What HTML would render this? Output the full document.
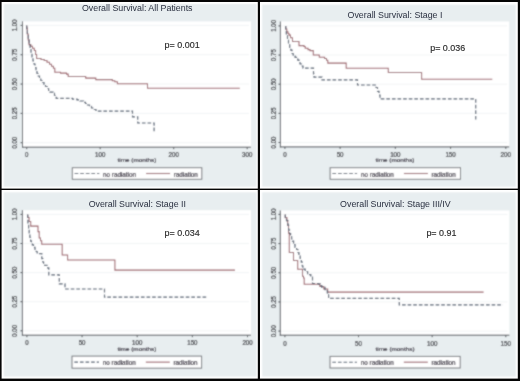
<!DOCTYPE html>
<html><head><meta charset="utf-8"><title>Overall Survival</title>
<style>
html,body{margin:0;padding:0;background:#000;}
body{width:520px;height:381px;overflow:hidden;}
svg{display:block;font-family:"Liberation Sans", sans-serif;}
</style></head><body>
<svg width="520" height="381" viewBox="0 0 520 381">
<defs><filter id="bl" x="0" y="0" width="520" height="381" filterUnits="userSpaceOnUse"><feConvolveMatrix order="3" kernelMatrix="1 2 1 2 8 2 1 2 1" divisor="20" edgeMode="duplicate"/></filter></defs>
<rect x="0" y="0" width="520" height="381" fill="#050505"/>
<rect x="1.6" y="2" width="256.2" height="186.6" fill="#ffffff"/>
<rect x="260" y="2" width="257.8" height="186.6" fill="#ffffff"/>
<rect x="1.6" y="190" width="256.2" height="188.6" fill="#ffffff"/>
<rect x="260" y="190" width="257.8" height="188.6" fill="#ffffff"/>
<g filter="url(#bl)">
<rect x="3.8" y="4" width="252.7" height="182.7" fill="#e8eef0"/>
<rect x="22.5" y="21.4" width="228.5" height="125.8" fill="#fff"/>
<line x1="23" y1="142.7" x2="249" y2="142.7" stroke="#f2f4f5" stroke-width="1"/>
<line x1="23" y1="113.38" x2="249" y2="113.38" stroke="#f2f4f5" stroke-width="1"/>
<line x1="23" y1="84.05" x2="249" y2="84.05" stroke="#f2f4f5" stroke-width="1"/>
<line x1="23" y1="54.72" x2="249" y2="54.72" stroke="#f2f4f5" stroke-width="1"/>
<line x1="23" y1="25.4" x2="249" y2="25.4" stroke="#f2f4f5" stroke-width="1"/>
<path d="M 26.7 25.4 V 28 H 27.3 V 34 H 28.2 V 40 H 29 V 44.6 H 30.8 V 46.3 H 32.5 V 48.3 H 34.3 V 50.5 H 35.6 V 54.5 H 36.6 V 58.4 H 41 V 59.5 H 44.2 V 60.4 H 47 V 62.3 H 49.5 V 64.2 H 51.5 V 66.2 H 53.4 V 68.2 H 54.8 V 72.2 H 60.5 V 73.1 H 66.5 V 74.1 H 68.2 V 76.5 H 85.7 V 78.1 H 95.8 V 79.6 H 112.3 V 80.8 H 114.8 V 81.8 H 117.4 V 83.7 H 147.5 V 88.2 H 239.8" fill="none" stroke="#9a5e67" stroke-width="1.05"/>
<path d="M 26.7 25.4 V 29 H 27.4 V 34 H 28.3 V 40 H 29.2 V 45 H 30.1 V 49 H 31 V 53 H 32 V 57 H 33 V 61 H 34 V 64 H 35 V 67.5 H 36 V 70.5 H 37 V 73.5 H 38.2 V 76 H 39.5 V 78.3 H 40.8 V 80.5 H 42.5 V 82.5 H 44 V 84.5 H 45.5 V 86.5 H 47.2 V 88.5 H 48.6 V 90.5 H 50 V 92.2 H 53 V 93.3 H 54.5 V 95.5 H 56.2 V 98.3 H 72.5 V 99.2 H 77 V 99.9 H 80 V 101 H 83.5 V 102.3 H 85.5 V 103.5 H 87.5 V 105 H 89.5 V 106.3 H 91.5 V 108 H 93.5 V 109.5 H 96 V 111.1 H 132.5 V 116.8 H 137.7 V 123 H 154.1 V 133.1" fill="none" stroke="#4a586b" stroke-width="1.2" stroke-dasharray="3.7 1.9"/>
<line x1="22.5" y1="21.4" x2="22.5" y2="147.7" stroke="#4a4e55" stroke-width="1"/>
<line x1="22" y1="147.2" x2="251" y2="147.2" stroke="#4a4e55" stroke-width="1"/>
<line x1="20.5" y1="142.7" x2="22.5" y2="142.7" stroke="#4a4e55" stroke-width="1"/>
<text transform="translate(17.1 142.7) rotate(-90) scale(0.87 1)" text-anchor="middle" font-size="7" fill="#26262c" stroke="#26262c" stroke-width="0.18">0.00</text>
<line x1="20.5" y1="113.38" x2="22.5" y2="113.38" stroke="#4a4e55" stroke-width="1"/>
<text transform="translate(17.1 113.38) rotate(-90) scale(0.87 1)" text-anchor="middle" font-size="7" fill="#26262c" stroke="#26262c" stroke-width="0.18">0.25</text>
<line x1="20.5" y1="84.05" x2="22.5" y2="84.05" stroke="#4a4e55" stroke-width="1"/>
<text transform="translate(17.1 84.05) rotate(-90) scale(0.87 1)" text-anchor="middle" font-size="7" fill="#26262c" stroke="#26262c" stroke-width="0.18">0.50</text>
<line x1="20.5" y1="54.72" x2="22.5" y2="54.72" stroke="#4a4e55" stroke-width="1"/>
<text transform="translate(17.1 54.72) rotate(-90) scale(0.87 1)" text-anchor="middle" font-size="7" fill="#26262c" stroke="#26262c" stroke-width="0.18">0.75</text>
<line x1="20.5" y1="25.4" x2="22.5" y2="25.4" stroke="#4a4e55" stroke-width="1"/>
<text transform="translate(17.1 25.4) rotate(-90) scale(0.87 1)" text-anchor="middle" font-size="7" fill="#26262c" stroke="#26262c" stroke-width="0.18">1.00</text>
<line x1="26.7" y1="147.2" x2="26.7" y2="149.2" stroke="#4a4e55" stroke-width="1"/>
<text transform="translate(26.7 156.6) scale(0.87 1)" text-anchor="middle" font-size="7" fill="#26262c" stroke="#26262c" stroke-width="0.18">0</text>
<line x1="100.2" y1="147.2" x2="100.2" y2="149.2" stroke="#4a4e55" stroke-width="1"/>
<text transform="translate(100.2 156.6) scale(0.87 1)" text-anchor="middle" font-size="7" fill="#26262c" stroke="#26262c" stroke-width="0.18">100</text>
<line x1="173.7" y1="147.2" x2="173.7" y2="149.2" stroke="#4a4e55" stroke-width="1"/>
<text transform="translate(173.7 156.6) scale(0.87 1)" text-anchor="middle" font-size="7" fill="#26262c" stroke="#26262c" stroke-width="0.18">200</text>
<line x1="247.2" y1="147.2" x2="247.2" y2="149.2" stroke="#4a4e55" stroke-width="1"/>
<text transform="translate(247.2 156.6) scale(0.87 1)" text-anchor="middle" font-size="7" fill="#26262c" stroke="#26262c" stroke-width="0.18">300</text>
<text transform="translate(136.95 162.3) scale(1.03 1)" text-anchor="middle" font-size="6.2" fill="#241e2c" stroke="#241e2c" stroke-width="0.14">time (months)</text>
<rect x="72.3" y="167.7" width="129.5" height="11.6" fill="#fff" stroke="#75777c" stroke-width="1"/>
<line x1="74.6" y1="173.5" x2="99.3" y2="173.5" stroke="#4a586b" stroke-width="1.1" stroke-dasharray="3.7 1.9"/>
<text transform="translate(103.1 176.5) scale(0.97 1)" font-size="6.5" fill="#241e2c" stroke="#241e2c" stroke-width="0.16">no radiation</text>
<line x1="146.1" y1="173.5" x2="170.1" y2="173.5" stroke="#9a5e67" stroke-width="1.1"/>
<text transform="translate(173.7 176.5) scale(0.97 1)" font-size="6.5" fill="#241e2c" stroke="#241e2c" stroke-width="0.16">radiation</text>
<rect x="262.2" y="4.6" width="253.6" height="182.1" fill="#e8eef0"/>
<rect x="280.4" y="21.5" width="228.8" height="125.4" fill="#fff"/>
<line x1="280.9" y1="142.5" x2="507.2" y2="142.5" stroke="#f2f4f5" stroke-width="1"/>
<line x1="280.9" y1="113.35" x2="507.2" y2="113.35" stroke="#f2f4f5" stroke-width="1"/>
<line x1="280.9" y1="84.2" x2="507.2" y2="84.2" stroke="#f2f4f5" stroke-width="1"/>
<line x1="280.9" y1="55.05" x2="507.2" y2="55.05" stroke="#f2f4f5" stroke-width="1"/>
<line x1="280.9" y1="25.9" x2="507.2" y2="25.9" stroke="#f2f4f5" stroke-width="1"/>
<path d="M 285.7 25.9 V 29 H 286.8 V 31.8 H 288 V 33.5 H 289 V 35.1 H 290.5 V 37.7 H 292.5 V 41.4 H 299 V 45.6 H 304 V 46.5 H 305.2 V 48.2 H 308 V 49.6 H 310 V 50.6 H 313.3 V 55 H 319.3 V 57.2 H 324.6 V 58.5 H 326.5 V 60.3 H 327.8 V 63.1 H 346.2 V 68.3 H 388.3 V 72.5 H 421.6 V 79.2 H 492.3" fill="none" stroke="#9a5e67" stroke-width="1.05"/>
<path d="M 285.7 25.9 V 30 H 286.3 V 35.1 H 287.5 V 40 H 288.5 V 44.3 H 289.7 V 47.5 H 290.8 V 50.2 H 292 V 53.5 H 293.2 V 56.1 H 295.1 V 57.4 H 296.5 V 58.8 H 297.7 V 60.1 H 299 V 62 H 300 V 64 H 301.5 V 66 H 303 V 68.2 H 313.5 V 74 H 314 V 77.2 H 322 V 79.9 H 357.5 V 85 H 376 V 87.5 H 377.5 V 91.3 H 379 V 95 H 380 V 98.9 H 475.7 V 121" fill="none" stroke="#4a586b" stroke-width="1.2" stroke-dasharray="3.7 1.9"/>
<line x1="280.4" y1="21.5" x2="280.4" y2="147.4" stroke="#4a4e55" stroke-width="1"/>
<line x1="279.9" y1="146.9" x2="509.2" y2="146.9" stroke="#4a4e55" stroke-width="1"/>
<line x1="278.4" y1="142.5" x2="280.4" y2="142.5" stroke="#4a4e55" stroke-width="1"/>
<text transform="translate(276.1 142.5) rotate(-90) scale(0.76 1)" text-anchor="middle" font-size="8" fill="#26262c" stroke="#26262c" stroke-width="0.18">0.00</text>
<line x1="278.4" y1="113.35" x2="280.4" y2="113.35" stroke="#4a4e55" stroke-width="1"/>
<text transform="translate(276.1 113.35) rotate(-90) scale(0.76 1)" text-anchor="middle" font-size="8" fill="#26262c" stroke="#26262c" stroke-width="0.18">0.25</text>
<line x1="278.4" y1="84.2" x2="280.4" y2="84.2" stroke="#4a4e55" stroke-width="1"/>
<text transform="translate(276.1 84.2) rotate(-90) scale(0.76 1)" text-anchor="middle" font-size="8" fill="#26262c" stroke="#26262c" stroke-width="0.18">0.50</text>
<line x1="278.4" y1="55.05" x2="280.4" y2="55.05" stroke="#4a4e55" stroke-width="1"/>
<text transform="translate(276.1 55.05) rotate(-90) scale(0.76 1)" text-anchor="middle" font-size="8" fill="#26262c" stroke="#26262c" stroke-width="0.18">0.75</text>
<line x1="278.4" y1="25.9" x2="280.4" y2="25.9" stroke="#4a4e55" stroke-width="1"/>
<text transform="translate(276.1 25.9) rotate(-90) scale(0.76 1)" text-anchor="middle" font-size="8" fill="#26262c" stroke="#26262c" stroke-width="0.18">1.00</text>
<line x1="284.9" y1="146.9" x2="284.9" y2="148.9" stroke="#4a4e55" stroke-width="1"/>
<text transform="translate(284.9 157.3) scale(0.8 1)" text-anchor="middle" font-size="7.8" fill="#26262c" stroke="#26262c" stroke-width="0.18">0</text>
<line x1="340.12" y1="146.9" x2="340.12" y2="148.9" stroke="#4a4e55" stroke-width="1"/>
<text transform="translate(340.12 157.3) scale(0.8 1)" text-anchor="middle" font-size="7.8" fill="#26262c" stroke="#26262c" stroke-width="0.18">50</text>
<line x1="395.35" y1="146.9" x2="395.35" y2="148.9" stroke="#4a4e55" stroke-width="1"/>
<text transform="translate(395.35 157.3) scale(0.8 1)" text-anchor="middle" font-size="7.8" fill="#26262c" stroke="#26262c" stroke-width="0.18">100</text>
<line x1="450.57" y1="146.9" x2="450.57" y2="148.9" stroke="#4a4e55" stroke-width="1"/>
<text transform="translate(450.57 157.3) scale(0.8 1)" text-anchor="middle" font-size="7.8" fill="#26262c" stroke="#26262c" stroke-width="0.18">150</text>
<line x1="505.8" y1="146.9" x2="505.8" y2="148.9" stroke="#4a4e55" stroke-width="1"/>
<text transform="translate(505.8 157.3) scale(0.8 1)" text-anchor="middle" font-size="7.8" fill="#26262c" stroke="#26262c" stroke-width="0.18">200</text>
<text transform="translate(395 162.3) scale(1.03 1)" text-anchor="middle" font-size="6.2" fill="#241e2c" stroke="#241e2c" stroke-width="0.14">time (months)</text>
<rect x="330.1" y="167.7" width="130.4" height="11.6" fill="#fff" stroke="#75777c" stroke-width="1"/>
<line x1="332.4" y1="173.5" x2="357.1" y2="173.5" stroke="#4a586b" stroke-width="1.1" stroke-dasharray="3.7 1.9"/>
<text transform="translate(360.9 176.5) scale(0.97 1)" font-size="6.5" fill="#241e2c" stroke="#241e2c" stroke-width="0.16">no radiation</text>
<line x1="403.9" y1="173.5" x2="427.9" y2="173.5" stroke="#9a5e67" stroke-width="1.1"/>
<text transform="translate(431.5 176.5) scale(0.97 1)" font-size="6.5" fill="#241e2c" stroke="#241e2c" stroke-width="0.16">radiation</text>
<rect x="3.8" y="192.3" width="252.7" height="184.2" fill="#e8eef0"/>
<rect x="22.4" y="210.2" width="228.6" height="125" fill="#fff"/>
<line x1="22.9" y1="330.8" x2="249" y2="330.8" stroke="#f2f4f5" stroke-width="1"/>
<line x1="22.9" y1="301.7" x2="249" y2="301.7" stroke="#f2f4f5" stroke-width="1"/>
<line x1="22.9" y1="272.6" x2="249" y2="272.6" stroke="#f2f4f5" stroke-width="1"/>
<line x1="22.9" y1="243.5" x2="249" y2="243.5" stroke="#f2f4f5" stroke-width="1"/>
<line x1="22.9" y1="214.4" x2="249" y2="214.4" stroke="#f2f4f5" stroke-width="1"/>
<path d="M 27.7 214.4 V 217.4 H 29.1 V 221.4 H 30.7 V 226.1 H 38 V 231.6 H 39.2 V 237.9 H 40.5 V 240.7 H 41.7 V 244.3 H 62.2 V 255 H 67.6 V 259.9 H 114.9 V 270.1 H 235" fill="none" stroke="#9a5e67" stroke-width="1.05"/>
<path d="M 27.7 214.4 V 219 H 27.9 V 225.3 H 28.6 V 229 H 29.2 V 233 H 29.9 V 237.5 H 30.6 V 241.1 H 31.5 V 243 H 32.3 V 244.8 H 33.5 V 247.4 H 35 V 249.5 H 36.2 V 251.5 H 37.2 V 253.6 H 41.8 V 258.6 H 42.8 V 262 H 43.6 V 265.3 H 47 V 267.9 H 48.8 V 274.8 H 59.3 V 283.9 H 65 V 289 H 104.5 V 297.2 H 207.5" fill="none" stroke="#4a586b" stroke-width="1.2" stroke-dasharray="3.7 1.9"/>
<line x1="22.4" y1="210.2" x2="22.4" y2="335.7" stroke="#4a4e55" stroke-width="1"/>
<line x1="21.9" y1="335.2" x2="251" y2="335.2" stroke="#4a4e55" stroke-width="1"/>
<line x1="20.4" y1="330.8" x2="22.4" y2="330.8" stroke="#4a4e55" stroke-width="1"/>
<text transform="translate(17.1 330.8) rotate(-90) scale(0.87 1)" text-anchor="middle" font-size="7" fill="#26262c" stroke="#26262c" stroke-width="0.18">0.00</text>
<line x1="20.4" y1="301.7" x2="22.4" y2="301.7" stroke="#4a4e55" stroke-width="1"/>
<text transform="translate(17.1 301.7) rotate(-90) scale(0.87 1)" text-anchor="middle" font-size="7" fill="#26262c" stroke="#26262c" stroke-width="0.18">0.25</text>
<line x1="20.4" y1="272.6" x2="22.4" y2="272.6" stroke="#4a4e55" stroke-width="1"/>
<text transform="translate(17.1 272.6) rotate(-90) scale(0.87 1)" text-anchor="middle" font-size="7" fill="#26262c" stroke="#26262c" stroke-width="0.18">0.50</text>
<line x1="20.4" y1="243.5" x2="22.4" y2="243.5" stroke="#4a4e55" stroke-width="1"/>
<text transform="translate(17.1 243.5) rotate(-90) scale(0.87 1)" text-anchor="middle" font-size="7" fill="#26262c" stroke="#26262c" stroke-width="0.18">0.75</text>
<line x1="20.4" y1="214.4" x2="22.4" y2="214.4" stroke="#4a4e55" stroke-width="1"/>
<text transform="translate(17.1 214.4) rotate(-90) scale(0.87 1)" text-anchor="middle" font-size="7" fill="#26262c" stroke="#26262c" stroke-width="0.18">1.00</text>
<line x1="26.9" y1="335.2" x2="26.9" y2="337.2" stroke="#4a4e55" stroke-width="1"/>
<text transform="translate(26.9 345.2) scale(0.87 1)" text-anchor="middle" font-size="7" fill="#26262c" stroke="#26262c" stroke-width="0.18">0</text>
<line x1="82.05" y1="335.2" x2="82.05" y2="337.2" stroke="#4a4e55" stroke-width="1"/>
<text transform="translate(82.05 345.2) scale(0.87 1)" text-anchor="middle" font-size="7" fill="#26262c" stroke="#26262c" stroke-width="0.18">50</text>
<line x1="137.2" y1="335.2" x2="137.2" y2="337.2" stroke="#4a4e55" stroke-width="1"/>
<text transform="translate(137.2 345.2) scale(0.87 1)" text-anchor="middle" font-size="7" fill="#26262c" stroke="#26262c" stroke-width="0.18">100</text>
<line x1="192.35" y1="335.2" x2="192.35" y2="337.2" stroke="#4a4e55" stroke-width="1"/>
<text transform="translate(192.35 345.2) scale(0.87 1)" text-anchor="middle" font-size="7" fill="#26262c" stroke="#26262c" stroke-width="0.18">150</text>
<line x1="247.5" y1="335.2" x2="247.5" y2="337.2" stroke="#4a4e55" stroke-width="1"/>
<text transform="translate(247.5 345.2) scale(0.87 1)" text-anchor="middle" font-size="7" fill="#26262c" stroke="#26262c" stroke-width="0.18">200</text>
<text transform="translate(136.9 350.6) scale(1.03 1)" text-anchor="middle" font-size="6.2" fill="#241e2c" stroke="#241e2c" stroke-width="0.14">time (months)</text>
<rect x="72" y="356.1" width="129.6" height="12.1" fill="#fff" stroke="#75777c" stroke-width="1"/>
<line x1="74.3" y1="362.15" x2="99" y2="362.15" stroke="#4a586b" stroke-width="1.1" stroke-dasharray="3.7 1.9"/>
<text transform="translate(102.8 365.15) scale(0.97 1)" font-size="6.5" fill="#241e2c" stroke="#241e2c" stroke-width="0.16">no radiation</text>
<line x1="145.8" y1="362.15" x2="169.8" y2="362.15" stroke="#9a5e67" stroke-width="1.1"/>
<text transform="translate(173.4 365.15) scale(0.97 1)" font-size="6.5" fill="#241e2c" stroke="#241e2c" stroke-width="0.16">radiation</text>
<rect x="262.2" y="192.3" width="253.6" height="184.2" fill="#e8eef0"/>
<rect x="280.3" y="210.5" width="229.1" height="124.7" fill="#fff"/>
<line x1="280.8" y1="331.1" x2="507.4" y2="331.1" stroke="#f2f4f5" stroke-width="1"/>
<line x1="280.8" y1="301.93" x2="507.4" y2="301.93" stroke="#f2f4f5" stroke-width="1"/>
<line x1="280.8" y1="272.75" x2="507.4" y2="272.75" stroke="#f2f4f5" stroke-width="1"/>
<line x1="280.8" y1="243.58" x2="507.4" y2="243.58" stroke="#f2f4f5" stroke-width="1"/>
<line x1="280.8" y1="214.4" x2="507.4" y2="214.4" stroke="#f2f4f5" stroke-width="1"/>
<path d="M 285.3 214.4 V 217.6 H 286.9 V 220.7 H 287.7 V 225.5 H 288.5 V 233.3 H 289.3 V 252.4 H 293.5 V 260.4 H 297.7 V 269.2 H 302.5 V 276.3 H 303.5 V 278 H 304.2 V 284.2 H 319.8 V 286.5 H 323.8 V 288.9 H 327.7 V 292.1 H 483.6" fill="none" stroke="#9a5e67" stroke-width="1.05"/>
<path d="M 285.3 214.4 V 217.5 H 286.5 V 220.7 H 287.8 V 225 H 288.6 V 230.2 H 289.6 V 233.5 H 290.6 V 236.5 H 291.6 V 239 H 292.4 V 241.2 H 293.6 V 244.7 H 295 V 247.5 H 296.6 V 249.5 H 297.9 V 252.5 H 298.9 V 255 H 300.2 V 258.5 H 301.3 V 262.1 H 302.2 V 266 H 302.9 V 269.2 H 305.2 V 271.5 H 307.6 V 274.7 H 310.8 V 277.1 H 312.5 V 283.5 H 318 V 283.9 H 320.2 V 285.7 H 321.8 V 287.3 H 325 V 289.7 H 327.3 V 292.8 H 328.6 V 298.4 H 399.3 V 304.9 H 502.9" fill="none" stroke="#4a586b" stroke-width="1.2" stroke-dasharray="3.7 1.9"/>
<line x1="280.3" y1="210.5" x2="280.3" y2="335.7" stroke="#4a4e55" stroke-width="1"/>
<line x1="279.8" y1="335.2" x2="509.4" y2="335.2" stroke="#4a4e55" stroke-width="1"/>
<line x1="278.3" y1="331.1" x2="280.3" y2="331.1" stroke="#4a4e55" stroke-width="1"/>
<text transform="translate(275.8 331.1) rotate(-90) scale(0.76 1)" text-anchor="middle" font-size="8" fill="#26262c" stroke="#26262c" stroke-width="0.18">0.00</text>
<line x1="278.3" y1="301.93" x2="280.3" y2="301.93" stroke="#4a4e55" stroke-width="1"/>
<text transform="translate(275.8 301.93) rotate(-90) scale(0.76 1)" text-anchor="middle" font-size="8" fill="#26262c" stroke="#26262c" stroke-width="0.18">0.25</text>
<line x1="278.3" y1="272.75" x2="280.3" y2="272.75" stroke="#4a4e55" stroke-width="1"/>
<text transform="translate(275.8 272.75) rotate(-90) scale(0.76 1)" text-anchor="middle" font-size="8" fill="#26262c" stroke="#26262c" stroke-width="0.18">0.50</text>
<line x1="278.3" y1="243.58" x2="280.3" y2="243.58" stroke="#4a4e55" stroke-width="1"/>
<text transform="translate(275.8 243.58) rotate(-90) scale(0.76 1)" text-anchor="middle" font-size="8" fill="#26262c" stroke="#26262c" stroke-width="0.18">0.75</text>
<line x1="278.3" y1="214.4" x2="280.3" y2="214.4" stroke="#4a4e55" stroke-width="1"/>
<text transform="translate(275.8 214.4) rotate(-90) scale(0.76 1)" text-anchor="middle" font-size="8" fill="#26262c" stroke="#26262c" stroke-width="0.18">1.00</text>
<line x1="284.9" y1="335.2" x2="284.9" y2="337.2" stroke="#4a4e55" stroke-width="1"/>
<text transform="translate(284.9 345.5) scale(0.8 1)" text-anchor="middle" font-size="7.8" fill="#26262c" stroke="#26262c" stroke-width="0.18">0</text>
<line x1="358.53" y1="335.2" x2="358.53" y2="337.2" stroke="#4a4e55" stroke-width="1"/>
<text transform="translate(358.53 345.5) scale(0.8 1)" text-anchor="middle" font-size="7.8" fill="#26262c" stroke="#26262c" stroke-width="0.18">50</text>
<line x1="432.17" y1="335.2" x2="432.17" y2="337.2" stroke="#4a4e55" stroke-width="1"/>
<text transform="translate(432.17 345.5) scale(0.8 1)" text-anchor="middle" font-size="7.8" fill="#26262c" stroke="#26262c" stroke-width="0.18">100</text>
<line x1="505.8" y1="335.2" x2="505.8" y2="337.2" stroke="#4a4e55" stroke-width="1"/>
<text transform="translate(505.8 345.5) scale(0.8 1)" text-anchor="middle" font-size="7.8" fill="#26262c" stroke="#26262c" stroke-width="0.18">150</text>
<text transform="translate(395.05 350.9) scale(1.03 1)" text-anchor="middle" font-size="6.2" fill="#241e2c" stroke="#241e2c" stroke-width="0.14">time (months)</text>
<rect x="330" y="356.4" width="130.2" height="11.6" fill="#fff" stroke="#75777c" stroke-width="1"/>
<line x1="332.3" y1="362.2" x2="357" y2="362.2" stroke="#4a586b" stroke-width="1.1" stroke-dasharray="3.7 1.9"/>
<text transform="translate(360.8 365.2) scale(0.97 1)" font-size="6.5" fill="#241e2c" stroke="#241e2c" stroke-width="0.16">no radiation</text>
<line x1="403.8" y1="362.2" x2="427.8" y2="362.2" stroke="#9a5e67" stroke-width="1.1"/>
<text transform="translate(431.4 365.2) scale(0.97 1)" font-size="6.5" fill="#241e2c" stroke="#241e2c" stroke-width="0.16">radiation</text>
</g>
<text x="137.25" y="11" text-anchor="middle" font-size="8.85" fill="#2a3040" stroke="#2a3040" stroke-width="0">Overall Survival: All Patients</text>
<text x="164.6" y="47.9" font-size="8.95" fill="#2a2a2a" stroke="#2a2a2a" stroke-width="0.15">p= 0.001</text>
<text x="395" y="18.1" text-anchor="middle" font-size="8.85" fill="#2a3040" stroke="#2a3040" stroke-width="0">Overall Survival: Stage I</text>
<text x="430.2" y="51.4" font-size="8.95" fill="#2a2a2a" stroke="#2a2a2a" stroke-width="0.15">p= 0.036</text>
<text x="137.3" y="207.1" text-anchor="middle" font-size="8.85" fill="#2a3040" stroke="#2a3040" stroke-width="0">Overall Survival: Stage II</text>
<text x="164.6" y="236.1" font-size="8.95" fill="#2a2a2a" stroke="#2a2a2a" stroke-width="0.15">p= 0.034</text>
<text x="395.4" y="207.1" text-anchor="middle" font-size="8.85" fill="#2a3040" stroke="#2a3040" stroke-width="0">Overall Survival: Stage III/IV</text>
<text x="426.4" y="236.3" font-size="8.95" fill="#2a2a2a" stroke="#2a2a2a" stroke-width="0.15">p= 0.91</text>
</svg>
</body></html>
